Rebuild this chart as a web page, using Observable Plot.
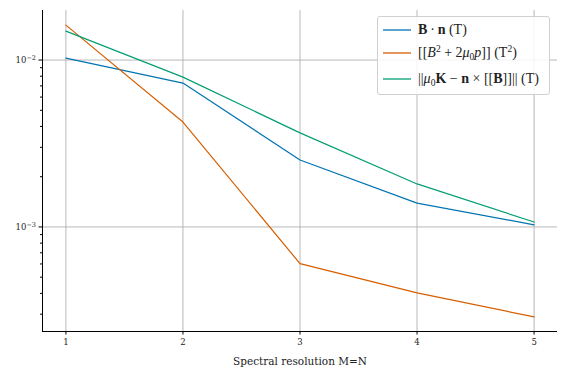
<!DOCTYPE html>
<html>
<head>
<meta charset="utf-8">
<script src="https://cdn.jsdelivr.net/npm/d3@7"></script>
<script src="https://cdn.jsdelivr.net/npm/@observablehq/plot@0.6"></script>
<style>
  html, body { margin: 0; padding: 0; background: #fff; }
  #wrap { position: relative; width: 566px; height: 374px; }
  #legend {
    position: absolute; left: 377px; top: 16px; width: 171px; height: 77px;
    border: 1px solid #d0d0d0; border-radius: 3px; background: rgba(255,255,255,0.85);
    font-family: "Liberation Serif", serif; font-size: 14px; color: #222;
  }
  #legend svg { position: absolute; left: 0; top: 0; }
  .lab { position: absolute; left: 40px; white-space: nowrap; line-height: 16px; height: 16px; }
  .lab sup, .lab sub { font-size: 9.5px; line-height: 0; vertical-align: baseline; position: relative; }
  .lab sup { top: -0.5em; }
  .lab sub { top: 0.3em; }
</style>
</head>
<body>
<div id="wrap"></div>
<script>
const resolutions = [1, 2, 3, 4, 5];
const seriesNames = ["Bn", "pressure", "K"];
const bnValues = [0.01028, 0.00728, 0.00252, 0.00139, 0.00103];
const pressureValues = [0.0162, 0.00425, 0.000603, 0.000403, 0.000289];
const kValues = [0.0149, 0.0079, 0.00366, 0.00181, 0.00107];
const colors = ["#0173b2", "#d55e00", "#029e73"];
const xTickLabels = ["1", "2", "3", "4", "5"];
const yMajorTicks = [1e-3, 1e-2];
const yMajorExponents = ["\u22123", "\u22122"];
const yMinorTicks = [3e-4, 4e-4, 5e-4, 6e-4, 7e-4, 8e-4, 9e-4, 2e-3, 3e-3, 4e-3, 5e-3, 6e-3, 7e-3, 8e-3, 9e-3];

const allValues = [bnValues, pressureValues, kValues];
const data = [];
seriesNames.forEach((s, i) => resolutions.forEach((r, j) => data.push({series: s, x: r, y: allValues[i][j]})));

const flat = allValues.flat();
const lmin = Math.log10(d3.min(flat)), lmax = Math.log10(d3.max(flat));
const pad = (lmax - lmin) * 0.05;
const yDomain = [Math.pow(10, lmin - pad), Math.pow(10, lmax + pad)];
const xDomain = [0.8, 5.2];

const yIndex = d => yMajorTicks.findIndex(t => Math.abs(t - d) < t * 1e-6);
const xLabelFor = d => xTickLabels[resolutions.indexOf(d)];

const chart = Plot.plot({
  width: 566,
  height: 374,
  marginLeft: 42,
  marginRight: 9,
  marginTop: 10,
  marginBottom: 43,
  style: {fontFamily: "DejaVu Serif", fontSize: "8.5px", background: "#fff", color: "#222"},
  x: {domain: xDomain},
  y: {type: "log", domain: yDomain},
  color: {domain: seriesNames, range: colors},
  marks: [
    Plot.gridX(resolutions, {stroke: "#b0b0b0", strokeOpacity: 1, strokeWidth: 0.9}),
    Plot.gridY(yMajorTicks, {stroke: "#b0b0b0", strokeOpacity: 1, strokeWidth: 0.9}),
    Plot.axisX(resolutions, {tickSize: 3.5, tickPadding: 4, stroke: "#000", tickFormat: xLabelFor, fill: "#222",
      label: "Spectral resolution M=N", labelAnchor: "center", labelArrow: "none", labelOffset: 33}),
    Plot.axisY(yMinorTicks, {tickSize: 2, stroke: "#000", tickFormat: () => "", label: null}),
    Plot.axisY(yMajorTicks, {tickSize: 3.5, tickPadding: 3, stroke: "#000", tickFormat: d => "10@" + yMajorExponents[yIndex(d)], fill: "#222", label: null}),
    Plot.line(data, {x: "x", y: "y", z: "series", stroke: "series", strokeWidth: 1.2}),
    Plot.ruleX([xDomain[0]], {stroke: "#000", strokeWidth: 1}),
    Plot.ruleY([yDomain[0]], {stroke: "#000", strokeWidth: 1})
  ]
});
chart.querySelectorAll("text").forEach(t => {
  const s = t.textContent;
  if (s === "Spectral resolution M=N") t.setAttribute("font-size", "10.5");
  if (s.startsWith("10@")) {
    const exp = s.slice(3);
    t.textContent = "";
    const base = document.createElementNS("http://www.w3.org/2000/svg", "tspan");
    base.textContent = "10";
    const sup = document.createElementNS("http://www.w3.org/2000/svg", "tspan");
    sup.textContent = exp;
    sup.setAttribute("dy", "-0.45em");
    sup.setAttribute("font-size", "6.5");
    t.appendChild(base);
    t.appendChild(sup);
  }
});

const wrap = document.getElementById("wrap");
wrap.appendChild(chart);

const legendLabels = [
  '<b>B</b>\u2009\u00B7\u2009<b>n</b> (T)',
  '[[<i>B</i><sup>2</sup> + 2<i>\u03BC</i><sub>0</sub><i>p</i>]] (T<sup>2</sup>)',
  '||<i>\u03BC</i><sub>0</sub><b>K</b> \u2212 <b>n</b> \u00D7 [[<b>B</b>]]|| (T)'
];
const legend = document.createElement("div");
legend.id = "legend";
const rowCenters = [13, 36, 62];
const NS = "http://www.w3.org/2000/svg";
const lsvg = document.createElementNS(NS, "svg");
lsvg.setAttribute("width", "171");
lsvg.setAttribute("height", "77");
legendLabels.forEach((html, i) => {
  const ln = document.createElementNS(NS, "line");
  ln.setAttribute("x1", "5"); ln.setAttribute("x2", "33");
  ln.setAttribute("y1", rowCenters[i]); ln.setAttribute("y2", rowCenters[i]);
  ln.setAttribute("stroke", colors[i]);
  ln.setAttribute("stroke-width", "1.3");
  lsvg.appendChild(ln);
  const lab = document.createElement("div");
  lab.className = "lab";
  lab.style.top = (rowCenters[i] - 8) + "px";
  lab.innerHTML = html;
  legend.appendChild(lab);
});
legend.appendChild(lsvg);
wrap.appendChild(legend);
</script>
</body>
</html>
